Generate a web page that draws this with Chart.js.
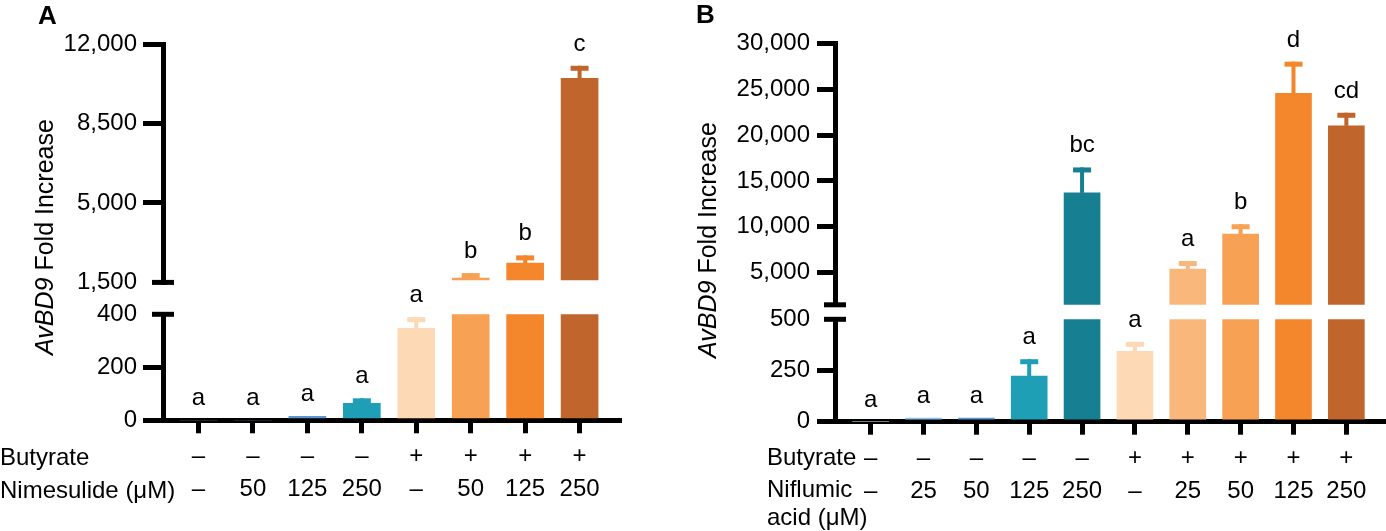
<!DOCTYPE html>
<html><head><meta charset="utf-8">
<script src="https://cdn.jsdelivr.net/npm/chart.js@4"></script>
<style>
html,body{margin:0;padding:0;background:#fff;}
#wrap{position:relative;width:1386px;height:531px;overflow:hidden;font-family:'Liberation Sans',Arial,Helvetica,sans-serif;color:#000;}
canvas{position:absolute;}
.t{position:absolute;white-space:nowrap;font-size:24px;line-height:24px;}
.panel{position:absolute;font-weight:bold;font-size:26px;line-height:26px;font-family:'Liberation Sans',Arial,sans-serif;}
.ytitle{position:absolute;white-space:nowrap;font-size:25px;line-height:25px;transform:translate(-50%,-50%) rotate(-90deg);}
</style></head>
<body><div id="wrap">
<canvas id="aU" width="640" height="340" style="left:0px;top:0px"></canvas>
<canvas id="aL" width="640" height="281" style="left:0px;top:250px"></canvas>
<canvas id="bU" width="706" height="340" style="left:680px;top:0px"></canvas>
<canvas id="bL" width="706" height="281" style="left:680px;top:250px"></canvas>
<div class="panel" style="left:38px;top:2px">A</div>
<div class="panel" style="left:696px;top:1px">B</div>
<div class="ytitle" style="left:44px;top:237px"><i>AvBD9</i> Fold Increase</div>
<div class="ytitle" style="left:707px;top:240px"><i>AvBD9</i> Fold Increase</div>
<div class="t" style="left:0px;top:445px">Butyrate</div>
<div class="t" style="left:0px;top:478px">Nimesulide (μM)</div>
<div class="t" style="left:767px;top:445px">Butyrate</div>
<div class="t" style="left:767px;top:477px">Niflumic</div>
<div class="t" style="left:767px;top:505px">acid (μM)</div>
</div>
<script>
// ---------- Data: panel A (Nimesulide) ----------
const butyrateA   = ['–','–','–','–','+','+','+','+'];
const nimesulideA = ['–','50','125','250','–','50','125','250'];
const meanA   = [0, 0, 15, 64, 347, 1690, 2350, 10485];
const semA    = [0, 0, 0, 19, 42, 220, 340, 556];
const lettersA = ['a','a','a','a','a','b','b','c'];
const colorsA  = ['#a6cdee','#8ec1ea','#5b96d2','#1e9fb5','#fdd9b6','#f7a154','#f4862c','#c0652b'];
const yTicksA_low  = [0, 200, 400];
const yTicksA_high = [1500, 5000, 8500, 12000];

// ---------- Data: panel B (Niflumic acid) ----------
const butyrateB  = ['–','–','–','–','–','+','+','+','+','+'];
const niflumicB  = ['–','25','50','125','250','–','25','50','125','250'];
const meanB   = [0, 18, 18, 223, 13700, 344, 5400, 9200, 24550, 21000];
const semB    = [0, 0, 0, 82, 2770, 46, 870, 1080, 3450, 1430];
const lettersB = ['a','a','a','a','bc','a','a','b','d','cd'];
const colorsB  = ['#c6e0f5','#8ec1ea','#5b96d2','#1e9fb5','#167f92','#fdd9b6','#f9b77c','#f7a154','#f4862c','#c0652b'];
const yTicksB_low  = [0, 250, 500];
const yTicksB_high = [5000, 10000, 15000, 20000, 25000, 30000];

const FONT = "'Liberation Sans', Arial, Helvetica, sans-serif";
const nf = v => v.toLocaleString('en-US');

const marksPlugin = {
  id: 'marks',
  afterDatasetsDraw(chart, args, o) {
    const {ctx, chartArea} = chart;
    const ys = chart.scales.y, xs = chart.scales.x;
    ctx.save();
    const by = ys.getPixelForValue(o.breakValue);
    ctx.strokeStyle = '#000'; ctx.lineWidth = 5; ctx.lineCap = 'butt';
    ctx.beginPath(); ctx.moveTo(chartArea.left - 11, by); ctx.lineTo(chartArea.left + 11, by); ctx.stroke();
    o.means.forEach((v, i) => {
      const e = o.sems[i];
      const isUpper = v > o.split;
      if ((o.part === 'upper') !== isUpper) return;
      const x = xs.getPixelForValue(i + 1);
      const yTop = ys.getPixelForValue(v + e), yBar = ys.getPixelForValue(v);
      if (e > 0) {
        ctx.fillStyle = o.colors[i];
        ctx.fillRect(x - 2, yTop, 4, yBar - yTop);
        ctx.fillRect(x - 9, yTop, 18, 5);
      }
      ctx.fillStyle = '#000';
      ctx.font = '24px ' + FONT;
      ctx.textAlign = 'center'; ctx.textBaseline = 'alphabetic';
      ctx.fillText(o.letters[i], x, yTop - 15);
    });
    ctx.restore();
  }
};

function yScale(min, max, ticks, hide, width, tl, pad) {
  return {
    min: min, max: max,
    afterBuildTicks: s => { s.ticks = ticks.map(v => ({value: v})); },
    afterFit: s => { s.width = width; },
    ticks: { font: {family: FONT, size: 24}, color: '#000', padding: pad, autoSkip: false, callback: v => nf(v) },
    grid: { drawOnChartArea: false, tickLength: tl, lineWidth: 5,
            color: c => (c.tick && hide.includes(c.tick.value)) ? 'rgba(0,0,0,0)' : '#000' },
    border: { display: true, width: 5, color: '#000' }
  };
}

function panel(p) {
  const common = { responsive: false, animation: false, events: [] };
  // upper part (broken axis, high range)
  new Chart(document.getElementById(p.upperId), {
    type: 'bar',
    data: { datasets: [{
      data: p.means.map((v, i) => ({x: i + 1, y: v > p.lowMax ? v : null})),
      backgroundColor: p.colors, base: p.highMin, barThickness: p.barW, borderWidth: 0, clip: 0
    }]},
    options: Object.assign({}, common, {
      layout: { padding: p.upperPad },
      plugins: { legend: {display: false}, tooltip: {enabled: false},
        marks: { means: p.means, sems: p.sems, letters: p.letters, colors: p.colors, part: 'upper', split: p.lowMax, breakValue: p.highMin } },
      scales: {
        x: { type: 'linear', min: p.xMin, max: p.xMax, offset: false, display: false },
        y: yScale(p.highMin, p.highMax, p.highTicks, p.highHide, p.axisW, p.tl, p.pad)
      }
    }),
    plugins: [marksPlugin]
  });
  // lower part (low range with treatment axis)
  new Chart(document.getElementById(p.lowerId), {
    type: 'bar',
    data: { datasets: [{
      data: p.means.map((v, i) => ({x: i + 1, y: v})),
      backgroundColor: p.colors, barThickness: p.barW, borderWidth: 0, clip: 0
    }]},
    options: Object.assign({}, common, {
      layout: { padding: p.lowerPad },
      plugins: { legend: {display: false}, tooltip: {enabled: false},
        marks: { means: p.means, sems: p.sems, letters: p.letters, colors: p.colors, part: 'lower', split: p.lowMax, breakValue: p.lowMax } },
      scales: {
        x: { type: 'linear', min: p.xMin, max: p.xMax, offset: false,
             afterBuildTicks: s => { s.ticks = p.means.map((v, i) => ({value: i + 1})); },
             afterFit: s => { s.height = p.xH; },
             ticks: { autoSkip: false, maxRotation: 0, minRotation: 0, padding: 7, color: '#000',
                      font: {family: FONT, size: 24, lineHeight: 33 / 24},
                      callback: v => { const i = Math.round(v) - 1; return [p.rowA[i], p.rowB[i]]; } },
             grid: { drawOnChartArea: false, offset: false, tickLength: 13, lineWidth: 5, color: '#000' },
             border: { display: true, width: 5, color: '#000' } },
        y: yScale(0, p.lowMax, p.lowTicks, [p.lowMax], p.axisW, p.tl, p.pad)
      }
    }),
    plugins: [marksPlugin]
  });
}

panel({
  upperId: 'aU', lowerId: 'aL',
  means: meanA, sems: semA, letters: lettersA, colors: colorsA,
  rowA: butyrateA, rowB: nimesulideA,
  xMin: 0.348, xMax: 8.735, barW: 37,
  lowMax: 400, lowTicks: yTicksA_low,
  highMin: 1500, highMax: 12000, highTicks: yTicksA_high, highHide: [1500],
  axisW: 163, tl: 20, pad: 6,
  upperPad: {left: 0, top: 44, right: 20.4, bottom: 57.6},
  lowerPad: {left: 0, top: 64.3, right: 20.4, bottom: 0},
  xH: 110.7
});

panel({
  upperId: 'bU', lowerId: 'bL',
  means: meanB, sems: semB, letters: lettersB, colors: colorsB,
  rowA: butyrateB, rowB: niflumicB,
  xMin: 0.326, xMax: 10.75, barW: 36,
  lowMax: 500, lowTicks: yTicksB_low,
  highMin: 1500, highMax: 30000, highTicks: yTicksB_high, highHide: [],
  axisW: 155, tl: 18, pad: 7,
  upperPad: {left: 0, top: 43.3, right: 0, bottom: 35.2},
  lowerPad: {left: 0, top: 69.3, right: 0, bottom: 0},
  xH: 109.3
});
</script>
</body></html>
